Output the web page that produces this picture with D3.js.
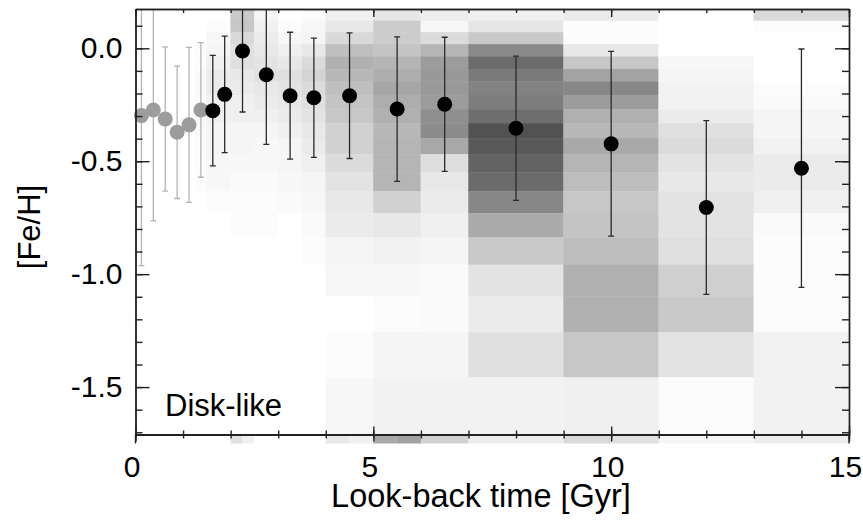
<!DOCTYPE html>
<html>
<head>
<meta charset="utf-8">
<script src="https://cdn.jsdelivr.net/npm/d3@7"></script>
<style>
  body { margin: 0; background: #fff; }
  svg text { font-family: "Liberation Sans", Arial, Helvetica, sans-serif; fill: #000; }
</style>
</head>
<body>
<div id="canvas"></div>
<script>
"use strict"

/* DATA */
// heatmap bins: look-back time edges (Gyr) and [Fe/H] edges (top to bottom)
let timeEdges = [1.25, 1.5, 2, 2.5, 3, 3.5, 4, 5, 6, 7, 9, 11, 13, 15];
let fehEdges = [0.18, 0.121, 0.071, 0.018, -0.037, -0.092, -0.148, -0.207, -0.270, -0.332,
  -0.398, -0.469, -0.550, -0.634, -0.730, -0.838, -0.959, -1.099, -1.258, -1.458, -1.75];

// relative density (percent), one list per time bin, rows top to bottom
let density = [
  [0, 0, 0, 1, 1, 2, 2, 2, 2, 2, 1, 1, 1, 0, 0, 0, 0, 0, 0, 0],
  [0, 1, 3, 4, 6, 8, 8, 6, 6, 4, 4, 3, 3, 1, 0, 0, 0, 0, 0, 0],
  [21, 22, 15, 12, 12, 9, 8, 6, 6, 4, 4, 3, 2, 1, 1, 0, 0, 0, 0, 0],
  [4, 6, 8, 9, 11, 12, 9, 8, 6, 4, 3, 3, 2, 1, 1, 0, 0, 0, 0, 0],
  [0, 1, 3, 6, 9, 12, 11, 9, 8, 6, 4, 4, 3, 2, 0, 0, 0, 0, 0, 0],
  [1, 3, 4, 9, 14, 17, 14, 12, 11, 9, 8, 6, 4, 3, 2, 1, 0, 0, 0, 0],
  [6, 9, 15, 25, 31, 28, 25, 23, 22, 18, 18, 14, 11, 9, 8, 4, 3, 0, 1, 3],
  [10, 20, 20, 23, 29, 32, 35, 32, 31, 28, 29, 29, 29, 18, 9, 5, 3, 1, 4, 5],
  [7, 3, 14, 29, 39, 40, 40, 39, 44, 45, 34, 13, 9, 8, 6, 4, 2, 2, 4, 5],
  [6, 10, 21, 46, 58, 52, 49, 51, 57, 68, 65, 61, 58, 47, 33, 21, 11, 8, 12, 5],
  [8, 1, 1, 9, 22, 36, 47, 39, 31, 28, 34, 29, 26, 22, 23, 26, 31, 31, 22, 6],
  [0, 0, 0, 0, 3, 4, 5, 5, 8, 12, 14, 11, 9, 11, 11, 12, 19, 21, 11, 1],
  [15, 1, 0, 0, 0, 0, 1, 2, 4, 4, 5, 8, 8, 6, 2, 1, 1, 1, 5, 5]
];

// young (grey) bins
let youngTime = [0.125, 0.375, 0.625, 0.875, 1.125, 1.375];
let youngFeH = [-0.298, -0.273, -0.313, -0.372, -0.339, -0.273];
let youngErr = [0.664, 0.491, 0.319, 0.293, 0.343, 0.298];

// mean [Fe/H] per time bin (black)
let meanTime = [1.625, 1.875, 2.25, 2.75, 3.25, 3.75, 4.5, 5.5, 6.5, 8, 10, 12, 14];
let meanFeH = [-0.276, -0.204, -0.012, -0.117, -0.210, -0.219, -0.210, -0.269, -0.248, -0.354, -0.423, -0.705, -0.531];
let meanErr = [0.245, 0.258, 0.270, 0.308, 0.281, 0.264, 0.278, 0.320, 0.297, 0.319, 0.409, 0.385, 0.528];

// top strip of the panel below (cropped)
let nextEdges = [2, 2.25, 2.5, 4, 4.5, 5, 5.5, 6, 7, 9, 10, 11, 13, 15];
let nextDensity = [12, 6, 0, 9, 6, 34, 37, 18, 7, 15, 12, 4, 7];

let xTicks = [0, 5, 10, 15];
let yTicks = [-1.5, -1.0, -0.5, 0.0];

/* CANVAS */
let svgWidth = 863;
let svgHeight = 522;

let marginLeft = 135.5;
let marginRight = 14;
let marginTop = 9;
let plotBottom = 434.5;

let svg = d3.select("#canvas")
  .append("svg")
  .attr("width", svgWidth)
  .attr("height", svgHeight);

let xScale = d3.scaleLinear()
  .domain([0, 15])
  .range([marginLeft, svgWidth - marginRight]);

let yScale = d3.scaleLinear()
  .domain([-1.71, 0.174])
  .range([plotBottom, marginTop]);

let greyScale = d3.scaleLinear()
  .domain([0, 100])
  .range(["#ffffff", "#000000"]);

svg.append("clipPath")
  .attr("id", "plotClip")
  .append("rect")
  .attr("x", marginLeft)
  .attr("y", marginTop)
  .attr("width", xScale(15) - marginLeft)
  .attr("height", plotBottom - marginTop);

// HEATMAP
let cells = [];
for (let i = 0; i < density.length; i++) {
  for (let j = 0; j < density[i].length; j++) {
    cells.push({ t0: timeEdges[i], t1: timeEdges[i + 1], f0: fehEdges[j], f1: fehEdges[j + 1], d: density[i][j] });
  }
}

svg.append("g")
  .attr("clip-path", "url(#plotClip)")
  .selectAll("rect")
  .data(cells)
  .join("rect")
  .attr("x", d => xScale(d.t0))
  .attr("y", d => yScale(d.f0))
  .attr("width", d => xScale(d.t1) - xScale(d.t0))
  .attr("height", d => yScale(d.f1) - yScale(d.f0))
  .attr("fill", d => greyScale(d.d))
  .attr("stroke", d => greyScale(d.d))
  .attr("stroke-width", 0.4);

// strip of the next panel below the x axis
let strip = [];
for (let i = 0; i < nextDensity.length; i++) {
  strip.push({ t0: nextEdges[i], t1: nextEdges[i + 1], d: nextDensity[i] });
}
svg.append("g")
  .selectAll("rect")
  .data(strip)
  .join("rect")
  .attr("x", d => xScale(d.t0))
  .attr("y", plotBottom)
  .attr("width", d => xScale(d.t1) - xScale(d.t0))
  .attr("height", 9)
  .attr("fill", d => greyScale(d.d));

// ERROR BARS AND POINTS
function drawSeries(times, fehs, errs, barColor, dotColor) {
  let rows = times.map((t, i) => ({ t: t, f: fehs[i], e: errs[i] }));
  let g = svg.append("g");
  let bars = g.append("g").attr("clip-path", "url(#plotClip)");
  bars.selectAll("line.bar")
    .data(rows)
    .join("line")
    .attr("class", "bar")
    .attr("x1", d => xScale(d.t))
    .attr("x2", d => xScale(d.t))
    .attr("y1", d => yScale(d.f + d.e))
    .attr("y2", d => yScale(d.f - d.e))
    .attr("stroke", barColor)
    .attr("stroke-width", 1.3);
  [1, -1].forEach(function (s) {
    bars.selectAll("line.cap" + (s > 0 ? "hi" : "lo"))
      .data(rows)
      .join("line")
      .attr("class", "cap" + (s > 0 ? "hi" : "lo"))
      .attr("x1", d => xScale(d.t) - 3)
      .attr("x2", d => xScale(d.t) + 3)
      .attr("y1", d => yScale(d.f + s * d.e))
      .attr("y2", d => yScale(d.f + s * d.e))
      .attr("stroke", barColor)
      .attr("stroke-width", 1.3);
  });
  g.selectAll("circle")
    .data(rows)
    .join("circle")
    .attr("cx", d => xScale(d.t))
    .attr("cy", d => yScale(d.f))
    .attr("r", 7.5)
    .attr("fill", dotColor);
}

drawSeries(youngTime, youngFeH, youngErr, "#b4b4b4", "#9c9c9c");
drawSeries(meanTime, meanFeH, meanErr, "#2a2a2a", "#000000");

// AXES (ticks on all four sides, pointing inwards)
let frameColor = "#222";
let minorX = d3.range(0, 15.01, 1);
let minorY = d3.range(-1.7, 0.18, 0.1);

function styleAxis(g) {
  g.selectAll("path, line").attr("stroke", frameColor).attr("stroke-width", 1.4);
  g.selectAll("text").attr("fill", "#000").style("font-size", "30px")
    .style("font-family", "'Liberation Sans', Arial, sans-serif");
}

// minor ticks
svg.append("g").attr("transform", `translate(0,${plotBottom})`)
  .call(d3.axisBottom(xScale).tickValues(minorX).tickSize(-4).tickSizeOuter(0).tickFormat(""))
  .call(styleAxis);
svg.append("g").attr("transform", `translate(0,${plotBottom})`)
  .call(d3.axisBottom(xScale).tickValues(minorX).tickSize(4).tickSizeOuter(0).tickFormat(""))
  .call(styleAxis);
svg.append("g").attr("transform", `translate(0,${marginTop})`)
  .call(d3.axisTop(xScale).tickValues(minorX).tickSize(-4).tickSizeOuter(0).tickFormat(""))
  .call(styleAxis);
svg.append("g").attr("transform", `translate(${marginLeft},0)`)
  .call(d3.axisLeft(yScale).tickValues(minorY).tickSize(-7).tickSizeOuter(0).tickFormat(""))
  .call(styleAxis);
svg.append("g").attr("transform", `translate(${xScale(15)},0)`)
  .call(d3.axisRight(yScale).tickValues(minorY).tickSize(-7).tickSizeOuter(0).tickFormat(""))
  .call(styleAxis);

// major ticks with labels
svg.append("g").attr("transform", `translate(0,${plotBottom})`)
  .call(d3.axisBottom(xScale).tickValues(xTicks).tickSize(-8).tickSizeOuter(0).tickPadding(21).tickFormat(d => d))
  .call(styleAxis)
  .selectAll("text").attr("dx", -4);
svg.append("g").attr("transform", `translate(0,${plotBottom})`)
  .call(d3.axisBottom(xScale).tickValues(xTicks).tickSize(7).tickSizeOuter(0).tickFormat(""))
  .call(styleAxis);
svg.append("g").attr("transform", `translate(0,${marginTop})`)
  .call(d3.axisTop(xScale).tickValues(xTicks).tickSize(-8).tickSizeOuter(0).tickFormat(""))
  .call(styleAxis);
svg.append("g").attr("transform", `translate(${marginLeft},0)`)
  .call(d3.axisLeft(yScale).tickValues(yTicks).tickSize(-14).tickSizeOuter(0).tickPadding(13).tickFormat(d => d.toFixed(1)))
  .call(styleAxis);
svg.append("g").attr("transform", `translate(${xScale(15)},0)`)
  .call(d3.axisRight(yScale).tickValues(yTicks).tickSize(-14).tickSizeOuter(0).tickFormat(""))
  .call(styleAxis);

// side lines continuing into the cropped panel below
[marginLeft, xScale(15)].forEach(function (x) {
  svg.append("line")
    .attr("x1", x).attr("x2", x)
    .attr("y1", plotBottom).attr("y2", plotBottom + 9)
    .attr("stroke", frameColor)
    .attr("stroke-width", 1.4);
});

/* LABELS */
svg.append("text")
  .attr("x", 481)
  .attr("y", 507)
  .attr("text-anchor", "middle")
  .style("font-size", "32.5px")
  .text("Look-back time [Gyr]");

svg.append("text")
  .attr("transform", "translate(40,227) rotate(-90)")
  .attr("text-anchor", "middle")
  .style("font-size", "31px")
  .text("[Fe/H]");

svg.append("text")
  .attr("x", 165)
  .attr("y", 416)
  .style("font-size", "31px")
  .text("Disk-like");
</script>
</body>
</html>
